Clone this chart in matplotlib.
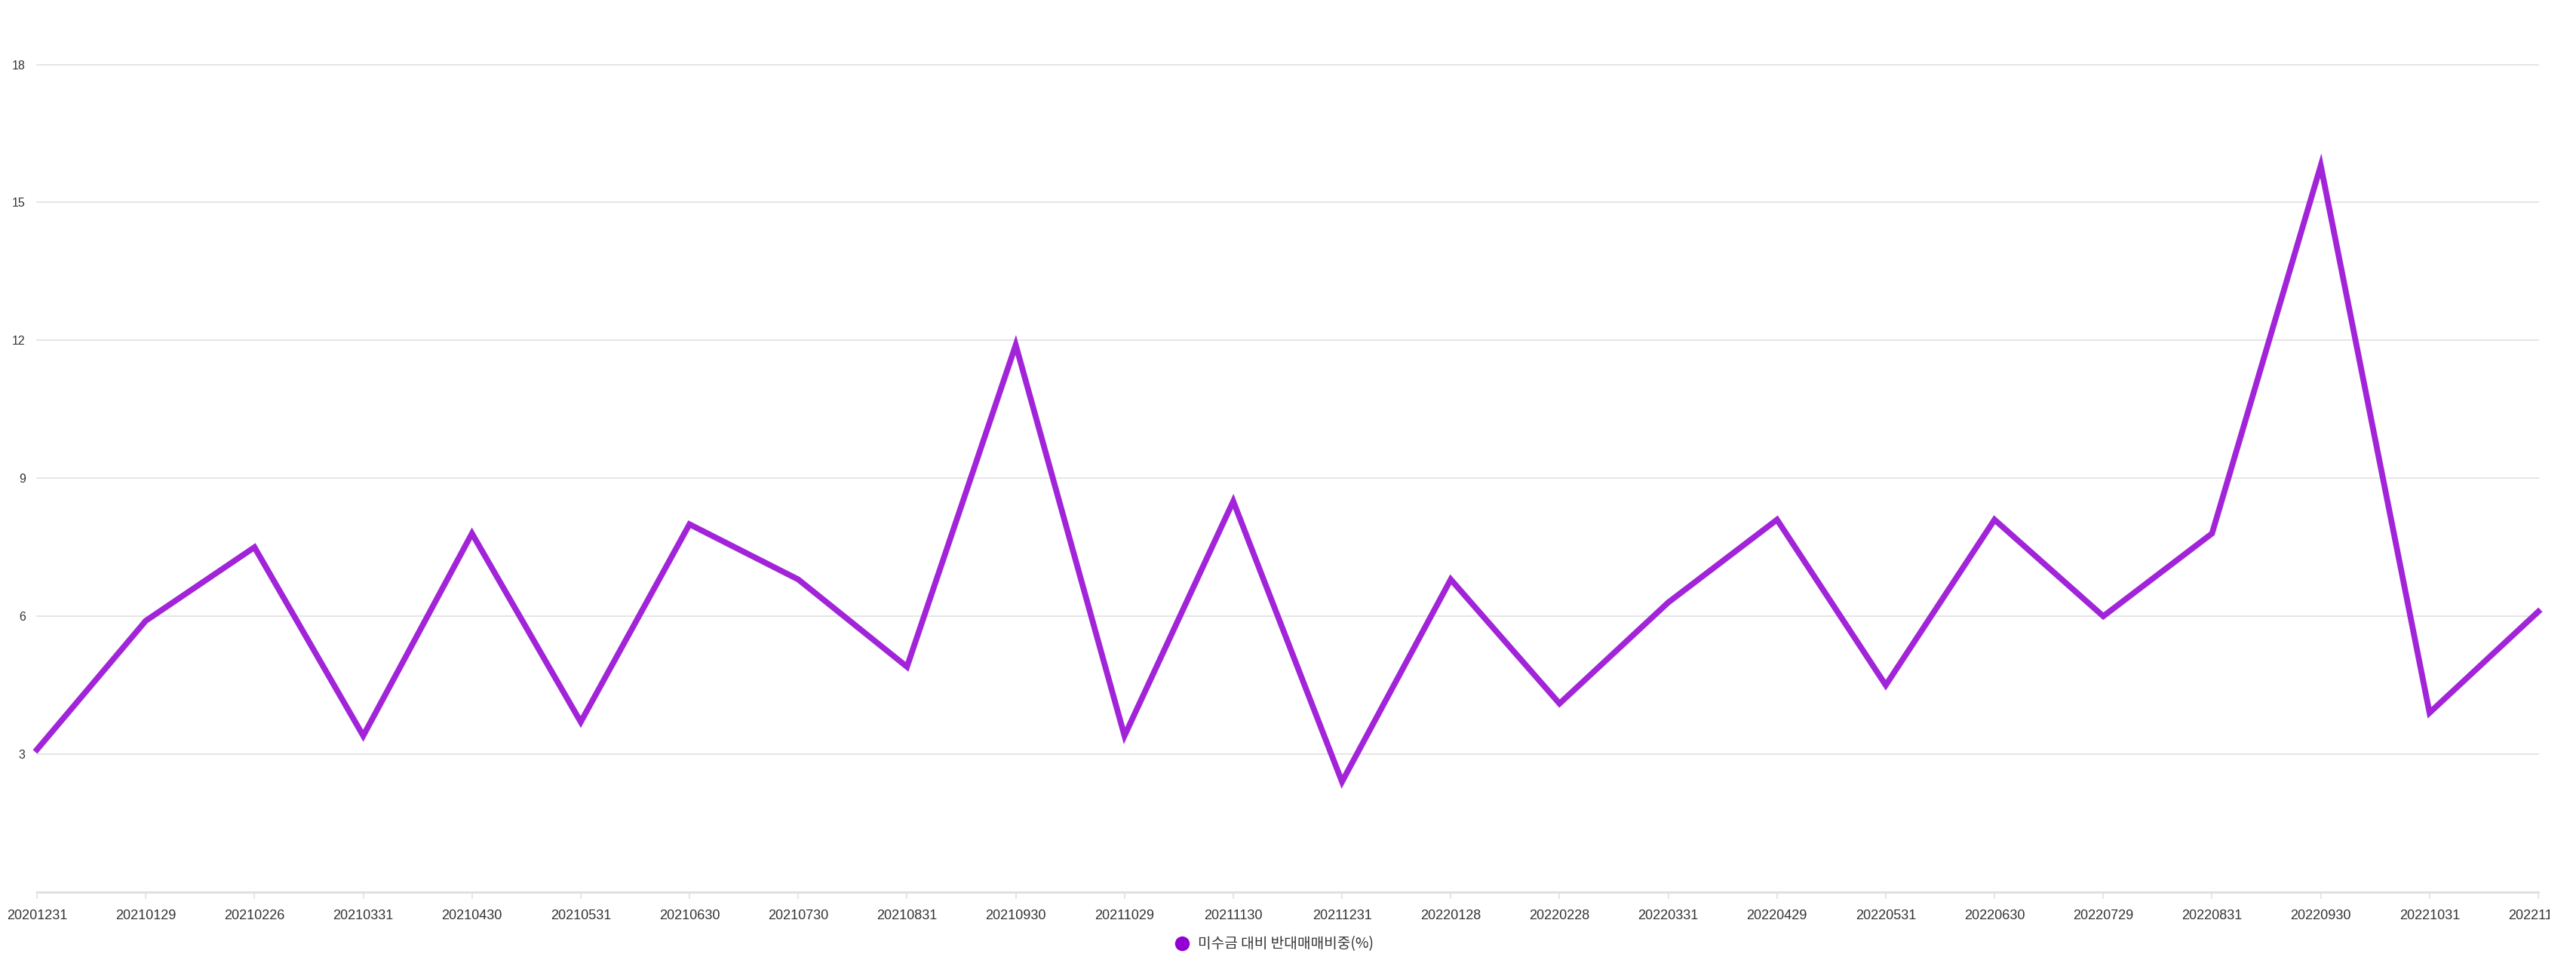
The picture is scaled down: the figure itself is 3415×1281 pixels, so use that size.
import matplotlib.pyplot as plt
from matplotlib.lines import Line2D
from matplotlib.transforms import Bbox, TransformedBbox

# 날짜 (x축 라벨)
dates = ['20201231', '20210129', '20210226', '20210331', '20210430', '20210531',
         '20210630', '20210730', '20210831', '20210930', '20211029', '20211130',
         '20211231', '20220128', '20220228', '20220331', '20220429', '20220531',
         '20220630', '20220729', '20220831', '20220930', '20221031', '20221130']

# 미수금 대비 반대매매비중(%)
ratio = [3.1, 5.9, 7.5, 3.4, 7.8, 3.7, 8.0, 6.8, 4.9, 11.9, 3.4, 8.5,
         2.4, 6.8, 4.1, 6.3, 8.1, 4.5, 8.1, 6.0, 7.8, 15.8, 3.9, 6.1]

y_ticks = [3, 6, 9, 12, 15, 18]
series_name = '미수금 대비 반대매매비중(%)'

W, H = 3415, 1281
fig = plt.figure(figsize=(W / 100, H / 100), dpi=100)
ax = fig.add_axes([49 / W, 1 - 1183 / H, (3365 - 49) / W, (1183 - 85.5) / H])

x = list(range(len(dates)))
ax.plot(x, ratio, color='#A224D9', linewidth=5.6, solid_joinstyle='miter', zorder=3, clip_on=False)

ax.set_xlim(0, len(dates) - 1)
ax.set_ylim(0, 18)
ax.set_yticks(y_ticks)
ax.set_xticks(x)
ax.set_xticklabels(dates)

# 그리드, 축 스타일
ax.grid(axis='y', color='#e0e0e0', linewidth=1.2)
ax.set_axisbelow(True)
for gl in ax.yaxis.get_gridlines():
    gl.set_clip_on(False)
for s in ['top', 'right', 'left']:
    ax.spines[s].set_visible(False)
ax.spines['bottom'].set_color('#e0e0e0')
ax.spines['bottom'].set_linewidth(2.2)

ax.tick_params(axis='x', length=6.5, width=1.2, color='#e0e0e0', pad=10,
               labelsize=13, labelcolor='#333333')
ax.tick_params(axis='y', length=0, pad=11, labelsize=11.5, labelcolor='#333333')
for lbl in ax.get_xticklabels() + ax.get_yticklabels():
    lbl.set_family(['Liberation Sans', 'DejaVu Sans'])

# 마지막 라벨은 오른쪽에서 잘림
clip = TransformedBbox(Bbox([[0, 0], [3380 / W, 1]]), fig.transFigure)
for lbl in ax.get_xticklabels():
    lbl.set_clip_box(clip)
    lbl.set_clip_on(True)

# 범례
handle = Line2D([], [], marker='o', color='#9400D3', linestyle='none', markersize=13)
fig.legend(handles=[handle], labels=[series_name], loc='center',
           bbox_to_anchor=(1684.5 / W, 1 - 1252 / H), frameon=False, handletextpad=0.1,
           prop={'family': ['Noto Sans CJK KR', 'DejaVu Sans'], 'size': 13.8},
           labelcolor='#333333')

fig.savefig('out.png', dpi=100)
